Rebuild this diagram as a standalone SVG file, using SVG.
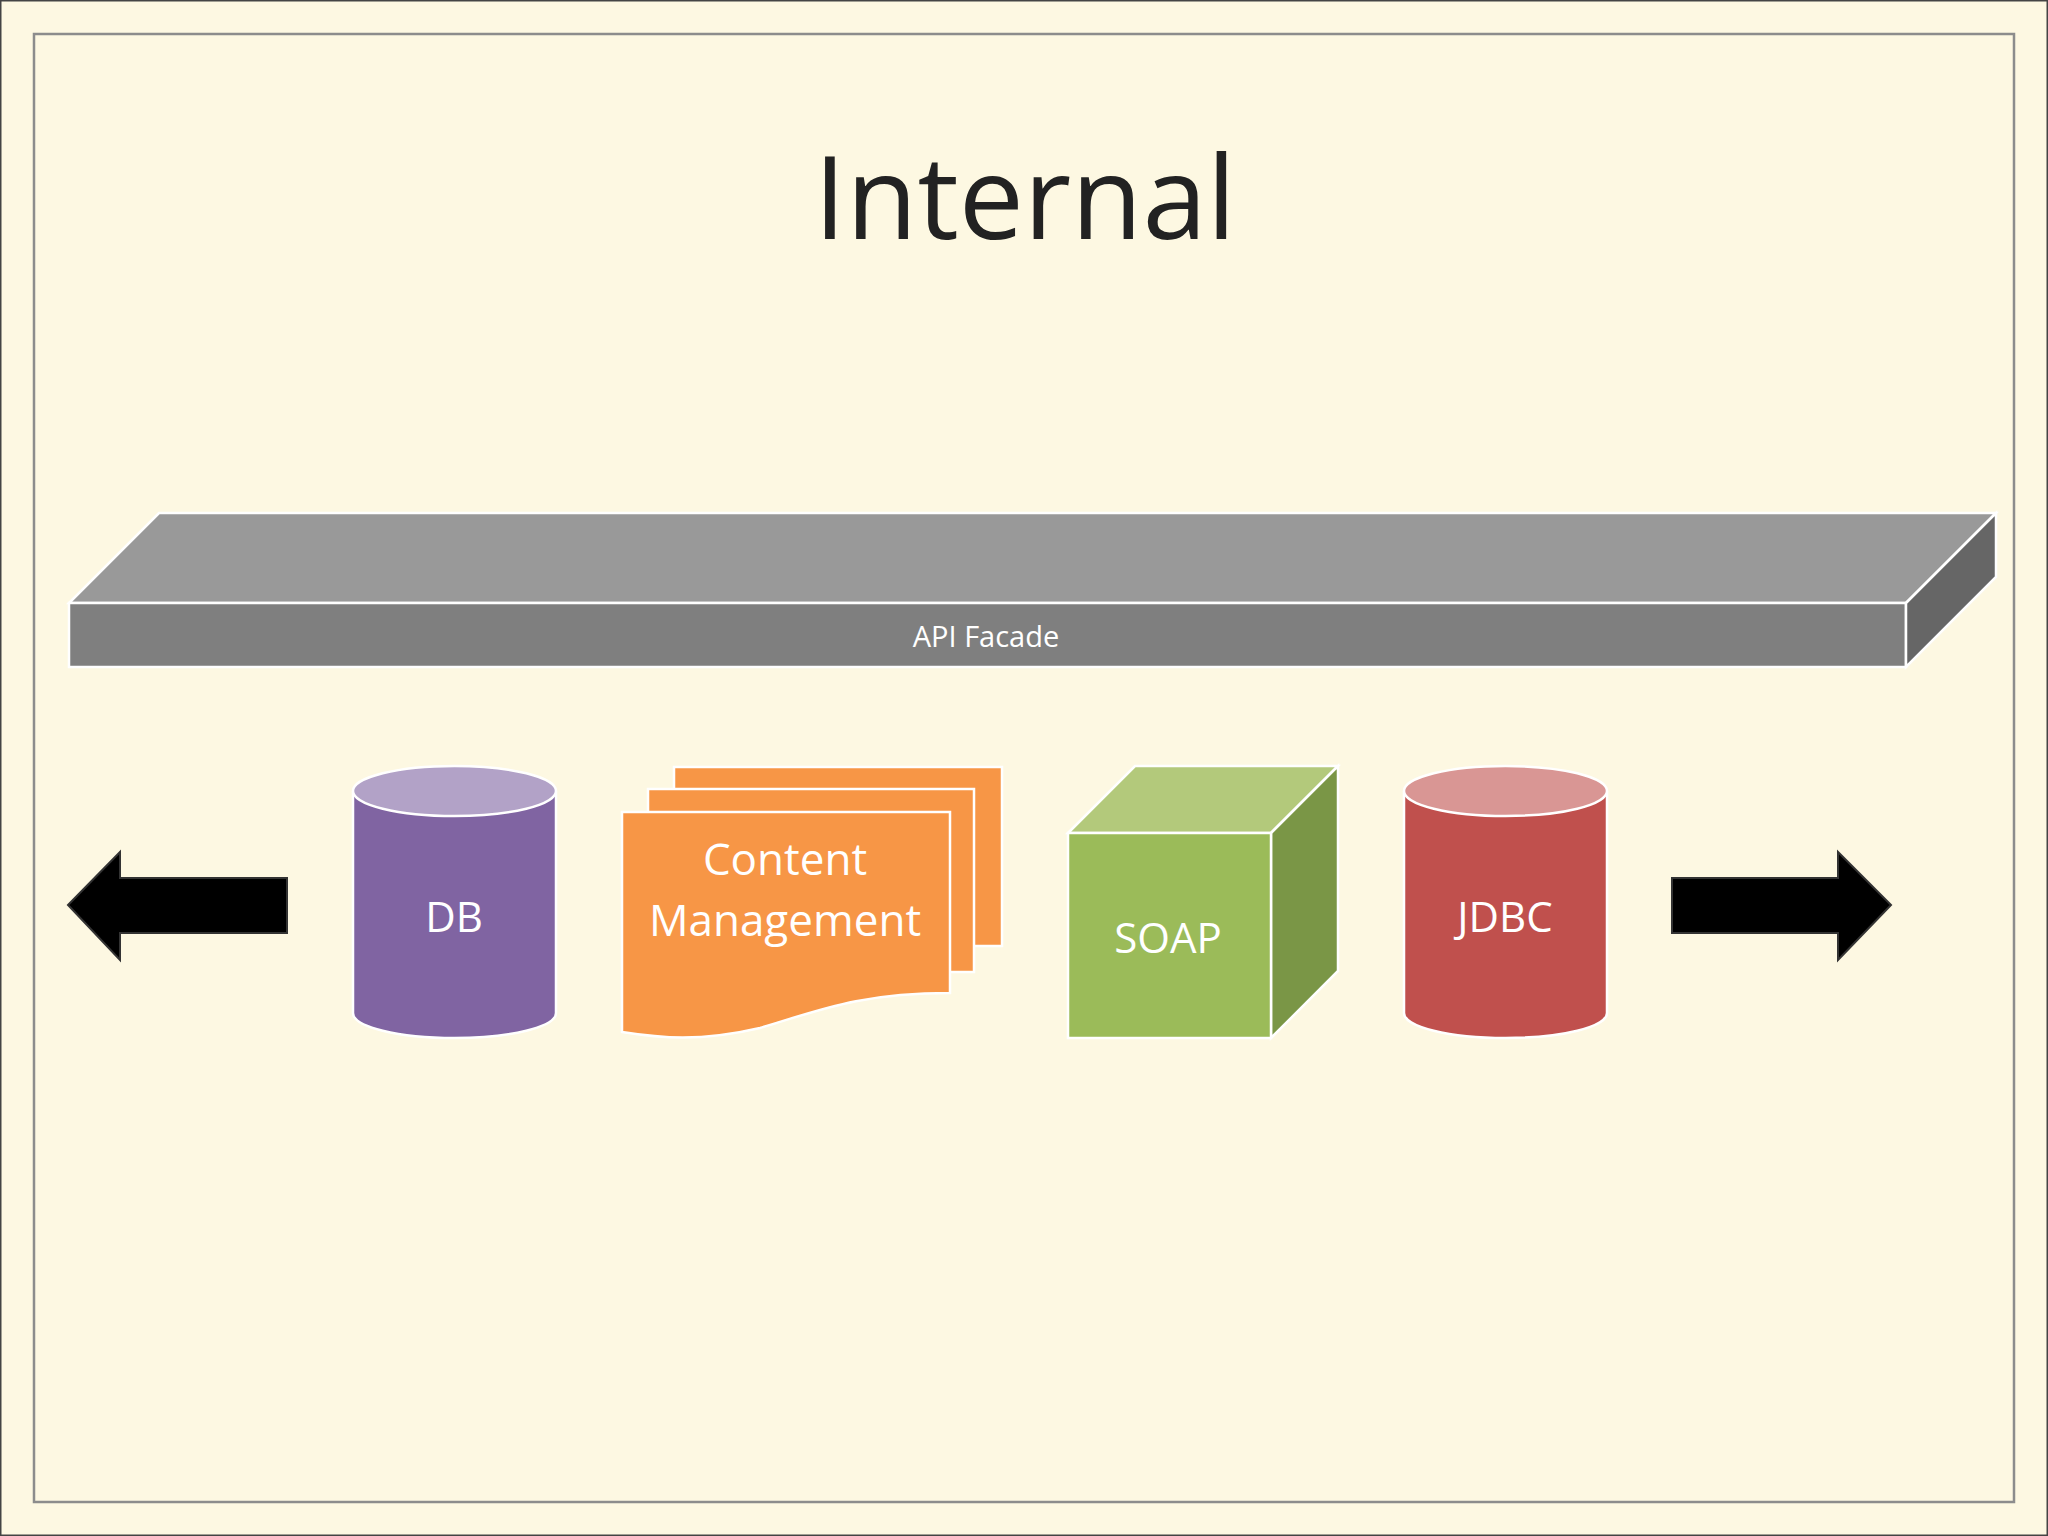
<svg xmlns="http://www.w3.org/2000/svg" width="2048" height="1536" viewBox="0 0 2048 1536">
<style>
.s{stroke:#ffffff;stroke-width:2.5}
.t{font-family:"Open Sans","Liberation Sans",sans-serif;fill:#ffffff;text-anchor:middle}
</style>
<rect x="0" y="0" width="2048" height="1536" fill="#fdf8e2" stroke="#444" stroke-width="3"/>
<rect x="34" y="34" width="1980" height="1468" fill="none" stroke="#8c8c8c" stroke-width="2.5"/>
<text x="1025" y="239" font-family="Open Sans,Liberation Sans,sans-serif" font-size="116" fill="#222" text-anchor="middle">Internal</text>
<g id="api">
<polygon class="s" points="159,513 1996,513 1906,603 69,603" fill="#999999"/>
<rect class="s" x="69" y="603" width="1837" height="64" fill="#7f7f7f"/>
<polygon class="s" points="1906,603 1996,513 1996,577 1906,667" fill="#666666"/>
<text class="t" x="986" y="647" font-size="29">API Facade</text>
</g>
<g id="db">
<path class="s" d="M353,791 V1013 A101.5,25 0 0 0 556,1013 V791" fill="#8064a2"/>
<ellipse class="s" cx="454.5" cy="791" rx="101.5" ry="25" fill="#b2a2c7"/>
<text class="t" x="454" y="932" font-size="42">DB</text>
</g>
<g id="cms">
<rect class="s" x="674" y="767" width="328" height="179" fill="#f79646"/>
<rect class="s" x="648" y="789" width="326" height="183" fill="#f79646"/>
<path class="s" d="M622,812 H950 V993 C860,993 820,1010 760,1028 C700,1042 660,1038 622,1032 Z" fill="#f79646"/>
<text class="t" x="785" y="875" font-size="44">Content</text>
<text class="t" x="785" y="936" font-size="44">Management</text>
</g>
<g id="soap">
<polygon class="s" points="1068,833 1135,766 1338,766 1271,833" fill="#b3c97b"/>
<polygon class="s" points="1271,833 1338,766 1338,971 1271,1038" fill="#7a9646"/>
<rect class="s" x="1068" y="833" width="203" height="205" fill="#9bbb59"/>
<text class="t" x="1168" y="953" font-size="42">SOAP</text>
</g>
<g id="jdbc">
<path class="s" d="M1404,791 V1013 A101.5,25 0 0 0 1607,1013 V791" fill="#c0504d"/>
<ellipse class="s" cx="1505.5" cy="791" rx="101.5" ry="25" fill="#d99694"/>
<text class="t" x="1505" y="932" font-size="42">JDBC</text>
</g>
<g id="connectors">
<polygon points="68,905 120,852 120,878 287,878 287,933 120,933 120,960" fill="#000" stroke="#333" stroke-width="2"/>
<polygon points="1891,905 1838,852 1838,878 1672,878 1672,933 1838,933 1838,960" fill="#000" stroke="#333" stroke-width="2"/>
</g>
</svg>
